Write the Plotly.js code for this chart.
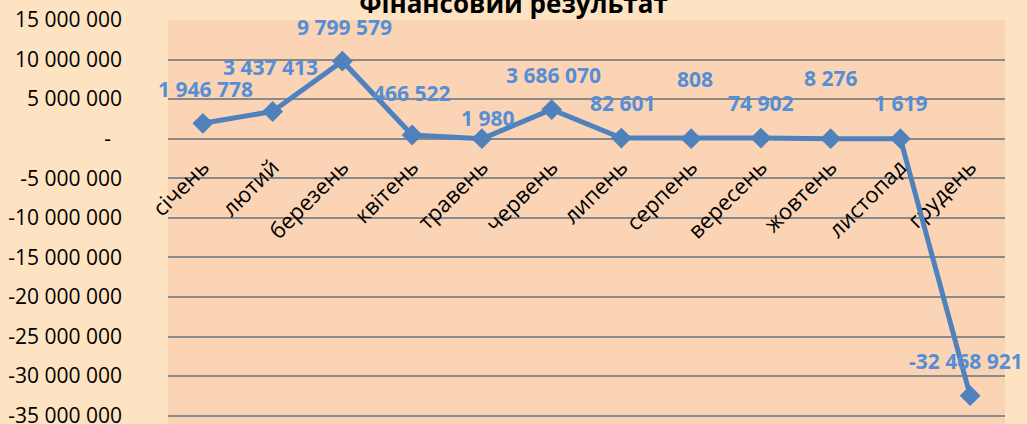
<!DOCTYPE html>
<html><head><meta charset="utf-8">
<script src="https://cdn.plot.ly/plotly-3.0.1.min.js"></script>
<style>html,body{margin:0;padding:0;background:#FEE3C3;overflow:hidden}</style>
</head><body><div id="chart" style="width:1027px;height:440px"></div>
<script>
const chartTitle = 'Фінансовий результат';
const months = ['січень','лютий','березень','квітень','травень','червень','липень','серпень','вересень','жовтень','листопад','грудень'];
const result = [1946778, 3437413, 9799579, 466522, 1980, 3686070, 82601, 808, 74902, 8276, 1619, -32468921];
const yTickVals = [15000000, 10000000, 5000000, 0, -5000000, -10000000, -15000000, -20000000, -25000000, -30000000, -35000000];
const yTickText = ['15 000 000','10 000 000','5 000 000','-\u00a0\u00a0','-5 000 000','-10 000 000','-15 000 000','-20 000 000','-25 000 000','-30 000 000','-35 000 000'];
const yMin = -36050000, yMax = 15000000;

// label placement (pixels), as in the original chart
const labelDx = [3,-2,2,0,6,2,2,4,0,0,0,-4];
const labelDy = [34,45,34,42,21,35,35,60,35,61,36,35];

function fmt(v){
  const s = Math.abs(v).toString().replace(/\B(?=(\d{3})+(?!\d))/g,' ');
  return (v<0?'-':'') + s;
}

const FONT = 'Open Sans, Liberation Sans, sans-serif';
const blue = '#4F81BD';
const labelBlue = '#558ED5';
const grid = '#8A8A8A';

const annotations = result.map((v,i)=>({
  x: months[i], y: v, xref:'x', yref:'y', showarrow:false,
  text: fmt(v), xshift: labelDx[i], yshift: labelDy[i],
  font:{family:FONT, size:21, color:labelBlue, weight:'bold'}
}));

const trace = {
  type:'scatter', mode:'lines+markers', x: months, y: result,
  line:{color:blue, width:5},
  marker:{symbol:'diamond', size:16, color:blue},
  cliponaxis:false, hoverinfo:'none'
};

const layout = {
  width:1027, height:440,
  margin:{l:168, r:22, t:20, b:16},
  paper_bgcolor:'#FEE3C3', plot_bgcolor:'#FAD4B4',
  showlegend:false,
  font:{family:FONT, size:21, color:'#000'},
  title:{text:chartTitle, xref:'container', x:0.5, yref:'container', y:1 - 13/440, yanchor:'bottom',
         font:{family:FONT, size:26, color:'#000', weight:'bold'}},
  xaxis:{type:'category', range:[-0.5,11.5], anchor:'free', position:(0 - yMin)/(yMax - yMin),
         tickangle:-45, showgrid:false, showline:false, zeroline:false,
         ticks:'outside', ticklen:6, tickcolor:'rgba(0,0,0,0)', layer:'below traces',
         tickfont:{family:FONT, size:22, color:'#000'}},
  yaxis:{range:[yMin, yMax], tickvals:yTickVals, ticktext:yTickText,
         showgrid:true, gridcolor:grid, gridwidth:2,
         zeroline:true, zerolinecolor:grid, zerolinewidth:2,
         showline:false, ticks:'', ticklabelstandoff:45,
         tickfont:{family:FONT, size:21, color:'#000'}},
  annotations: annotations
};

Plotly.newPlot('chart',[trace],layout,{staticPlot:true, displayModeBar:false});
</script>
</body></html>
